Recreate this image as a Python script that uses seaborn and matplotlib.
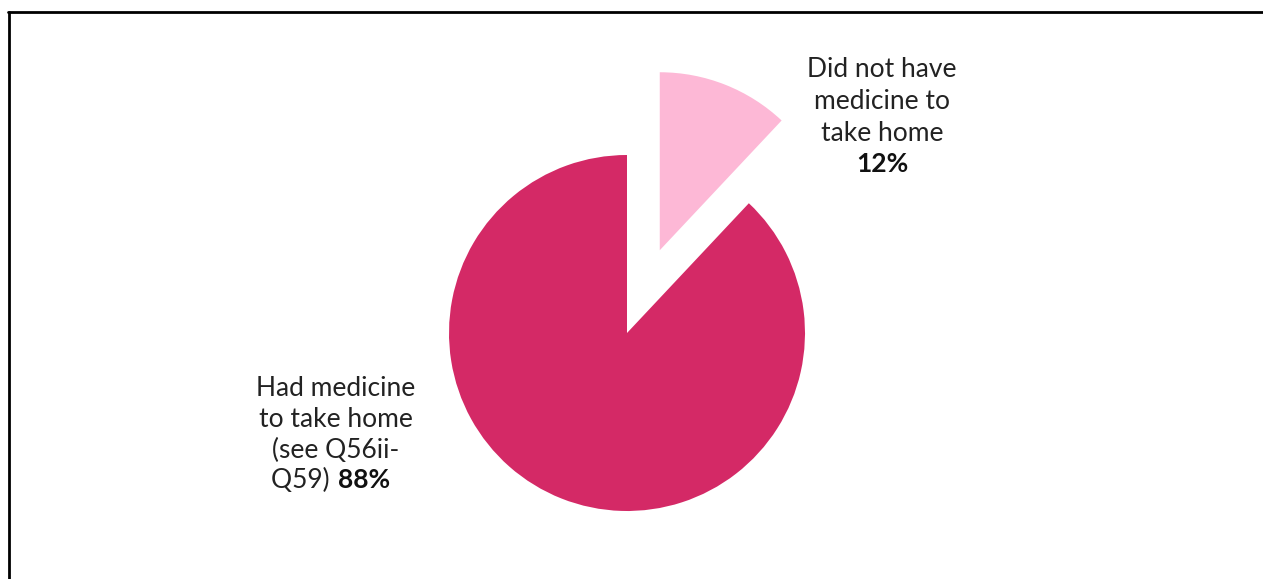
import numpy as np
import matplotlib.pyplot as plt
import seaborn as sns

# ----------------------------------------------------------
# DATA
# ----------------------------------------------------------

categories = ["Did not have medicine to take home", "Had medicine to take home"]
shares = [12, 88]
colors = ["#FDB8D6", "#D42966"]

label_small = ["Did not have", "medicine to", "take home"]
label_big = ["Had medicine", "to take home", "(see Q56ii-"]

# ----------------------------------------------------------
# FIGURE
# ----------------------------------------------------------

sns.set_theme(style="white")
plt.rcParams['font.family'] = ['Lato', 'DejaVu Sans']

W, H = 1263, 579
fig = plt.figure(figsize=(W / 100, H / 100), dpi=100)
ax = fig.add_axes([0, 0, 1, 1])

# pie, centred in pixel space (y measured from bottom); explode is absolute
R = 178
ax.pie(
    shares,
    colors=colors,
    startangle=90,
    counterclock=False,
    explode=[0.5 * R, 0],
    center=(627, H - 333),
    radius=R,
    wedgeprops=dict(linewidth=0),
)
ax.set_xlim(0, W)
ax.set_ylim(0, H)
ax.set_aspect('auto')
ax.axis('off')

# frame
ax.plot([9, 9], [-5, H - 12], color='black', lw=2, clip_on=False)
ax.plot([8, W + 5], [H - 12, H - 12], color='black', lw=2, clip_on=False)

# ----------------------------------------------------------
# LABELS
# ----------------------------------------------------------

fs = 19
txt = '#222222'

for i, line in enumerate(label_small):
    ax.text(882, H - (77 + 32 * i), line, ha='center', va='baseline',
            fontsize=fs, color=txt)
ax.text(882, H - 172, f"{shares[0]}%", ha='center', va='baseline',
        fontsize=fs, fontweight='bold', color='#111111')

for i, line in enumerate(label_big):
    ax.text(336, H - (396 + 31 * i), line, ha='center', va='baseline',
            fontsize=fs, color=txt)
ax.text(336, H - 488, "Q59) ", ha='right', va='baseline', fontsize=fs, color=txt)
ax.text(338, H - 488, f"{shares[1]}%", ha='left', va='baseline',
        fontsize=fs, fontweight='bold', color='#111111')

fig.savefig("out.png", dpi=100)
